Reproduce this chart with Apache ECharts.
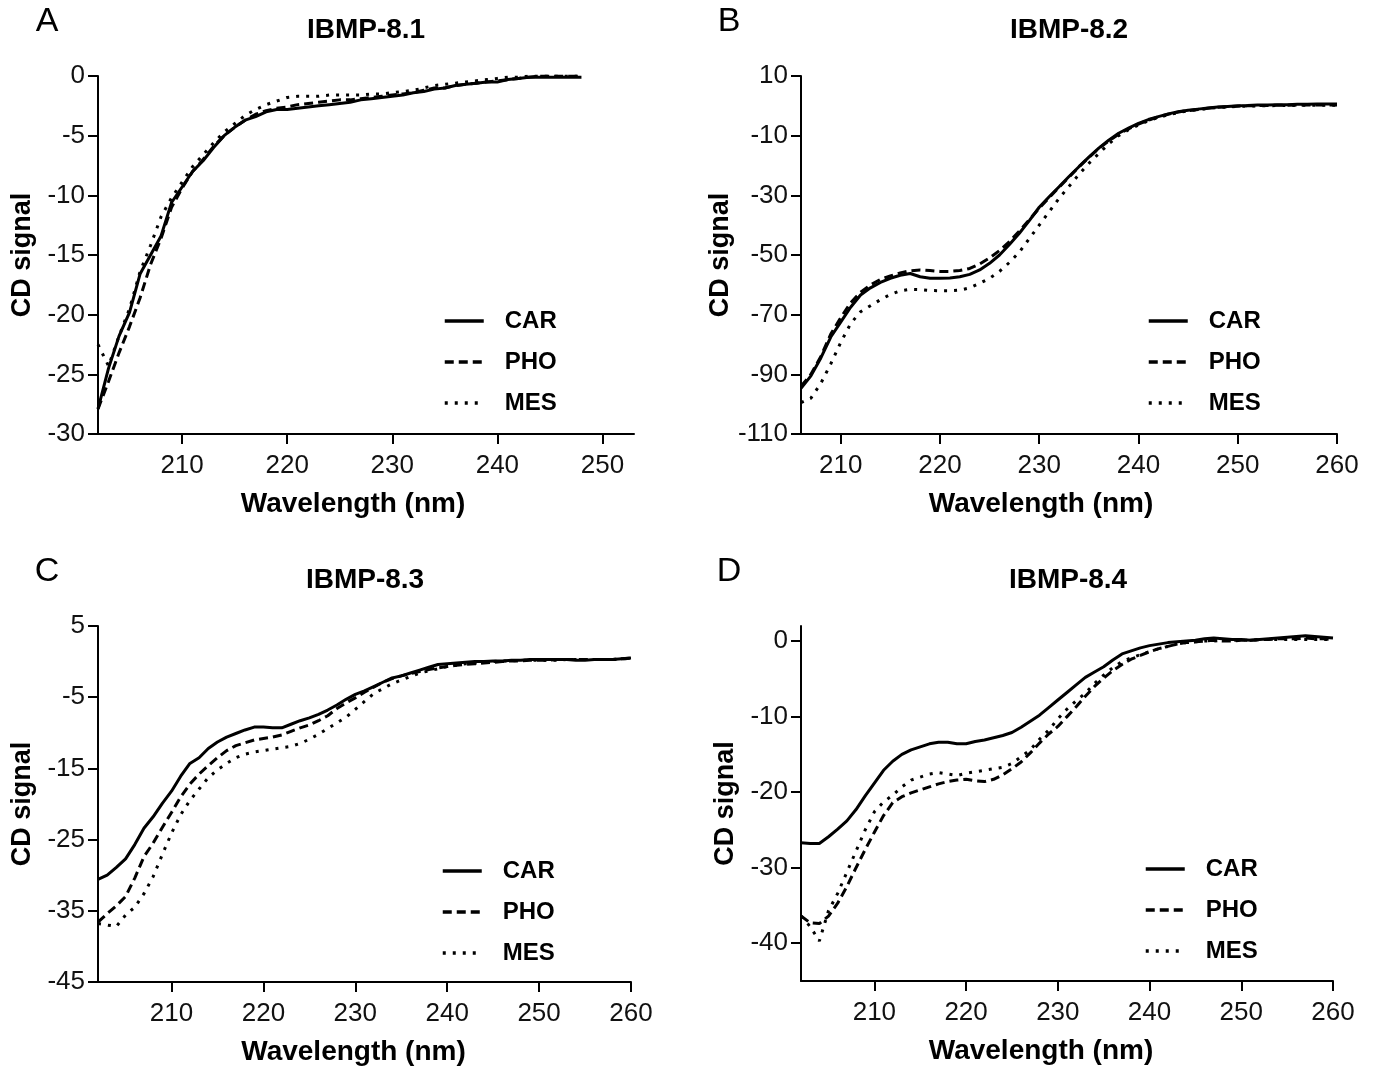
<!DOCTYPE html>
<html><head><meta charset="utf-8">
<script src="https://cdn.jsdelivr.net/npm/echarts@6/dist/echarts.min.js"></script>
<style>html,body{margin:0;padding:0;background:#fff}#c{width:1374px;height:1070px}</style>
</head><body><div id="c"></div>
<script>
function seq(a, b) { const r = []; for (let v = a; v <= b; v++) r.push(v); return r; }

// ---- Panel A: IBMP-8.1 ----
const wlA = seq(202, 248);
const carA = [-27.9,-24.5,-21.8,-19.8,-16.6,-15.0,-13.4,-10.6,-9.3,-8.0,
  -7.1,-6.0,-5.0,-4.3,-3.7,-3.4,-3.0,-2.8,-2.8,-2.7,
  -2.6,-2.5,-2.4,-2.3,-2.2,-2.0,-1.9,-1.8,-1.7,-1.6,
  -1.4,-1.3,-1.1,-1.0,-0.8,-0.7,-0.6,-0.5,-0.5,-0.3,
  -0.2,-0.1,-0.1,-0.1,-0.1,-0.1,-0.1];
const phoA = [-27.9,-25.6,-23.2,-21.0,-18.6,-15.8,-13.6,-11.0,-9.4,-8.0,
  -7.0,-5.9,-5.0,-4.3,-3.7,-3.2,-2.9,-2.7,-2.6,-2.4,
  -2.3,-2.2,-2.1,-2.0,-2.0,-1.9,-1.8,-1.7,-1.6,-1.5,
  -1.4,-1.2,-1.0,-1.0,-0.8,-0.7,-0.6,-0.5,-0.4,-0.3,
  -0.2,-0.1,0.0,0.0,0.0,0.0,0.0];
const mesA = [-22.5,-24.3,-21.8,-19.5,-16.4,-14.2,-11.8,-10.2,-8.9,-7.6,
  -6.6,-5.6,-4.7,-4.0,-3.3,-2.8,-2.4,-2.1,-1.8,-1.7,
  -1.7,-1.7,-1.6,-1.6,-1.6,-1.6,-1.5,-1.5,-1.4,-1.3,
  -1.2,-1.0,-0.8,-0.7,-0.6,-0.5,-0.4,-0.3,-0.2,-0.1,
  -0.1,0.0,0.0,0.0,0.0,0.0,0.0];

// ---- Panel B: IBMP-8.2 ----
const wlB = seq(206, 260);
const carB = [-94.7,-90.5,-84.5,-77.5,-72.5,-67.5,-63.4,-61.0,-59.2,-57.8,
  -56.8,-56.2,-57.3,-57.8,-57.8,-57.7,-57.3,-56.5,-55.0,-52.8,
  -50.0,-46.5,-42.7,-38.5,-34.0,-30.5,-27.1,-23.7,-20.4,-17.2,
  -14.2,-11.5,-9.2,-7.5,-5.9,-4.6,-3.6,-2.7,-2.0,-1.5,
  -1.1,-0.7,-0.4,-0.2,0.0,0.1,0.3,0.3,0.4,0.4,
  0.5,0.5,0.6,0.6,0.6];
const phoB = [-94.0,-90.0,-84.0,-76.5,-71.0,-66.0,-62.5,-60.0,-58.2,-57.0,
  -56.0,-55.3,-55.0,-55.2,-55.5,-55.5,-55.2,-54.5,-53.0,-51.0,
  -48.5,-45.5,-42.0,-38.2,-34.3,-30.8,-27.3,-23.9,-20.5,-17.3,
  -14.3,-11.8,-9.5,-7.7,-6.1,-4.8,-3.7,-2.8,-2.1,-1.6,
  -1.2,-0.8,-0.5,-0.3,-0.1,0.0,0.1,0.1,0.2,0.2,
  0.3,0.3,0.3,0.3,0.3];
const mesB = [-99.5,-98.0,-93.0,-86.5,-79.3,-73.0,-69.0,-67.0,-65.0,-63.2,
  -62.0,-61.5,-61.6,-61.9,-62.0,-62.0,-61.8,-61.0,-59.5,-57.8,
  -55.5,-52.5,-49.0,-44.5,-40.0,-35.5,-31.0,-27.0,-23.0,-19.3,
  -16.0,-12.8,-10.0,-8.0,-6.4,-5.0,-3.9,-3.0,-2.3,-1.7,
  -1.3,-0.9,-0.6,-0.4,-0.2,-0.1,0.0,0.0,0.1,0.1,
  0.2,0.2,0.2,0.2,0.2];

// ---- Panel C: IBMP-8.3 ----
const wlC = seq(202, 260);
const carC = [-30.6,-30.0,-28.9,-27.7,-25.7,-23.4,-21.8,-19.9,-18.2,-16.1,
  -14.3,-13.5,-12.2,-11.3,-10.6,-10.1,-9.6,-9.2,-9.2,-9.3,
  -9.3,-8.8,-8.3,-7.9,-7.4,-6.8,-6.1,-5.3,-4.6,-4.1,
  -3.5,-2.9,-2.3,-2.0,-1.6,-1.2,-0.8,-0.4,-0.3,-0.2,
  -0.1,0.0,0.0,0.1,0.1,0.2,0.2,0.3,0.3,0.3,
  0.3,0.3,0.2,0.2,0.3,0.3,0.3,0.4,0.5];
const phoC = [-36.6,-35.4,-34.3,-33.0,-30.4,-27.4,-25.5,-23.3,-21.2,-19.0,
  -17.2,-15.8,-14.6,-13.5,-12.5,-11.8,-11.4,-11.0,-10.8,-10.6,
  -10.3,-9.8,-9.3,-8.9,-8.3,-7.6,-6.6,-5.8,-5.1,-4.3,
  -3.6,-2.9,-2.4,-2.0,-1.7,-1.4,-1.1,-0.9,-0.7,-0.5,
  -0.4,-0.3,-0.2,-0.1,0.0,0.1,0.1,0.2,0.2,0.2,
  0.3,0.3,0.3,0.3,0.3,0.3,0.3,0.4,0.5];
const mesC = [-36.8,-37.0,-37.2,-35.6,-34.5,-32.6,-30.2,-27.1,-24.1,-21.5,
  -19.5,-17.9,-16.3,-15.2,-14.3,-13.5,-13.0,-12.7,-12.5,-12.3,
  -12.1,-11.9,-11.5,-10.9,-10.2,-9.4,-8.6,-7.8,-6.7,-5.6,
  -4.5,-3.8,-3.1,-2.6,-2.1,-1.6,-1.3,-1.0,-0.7,-0.5,
  -0.3,-0.2,-0.1,0.0,0.1,0.1,0.2,0.2,0.2,0.2,
  0.2,0.3,0.3,0.3,0.3,0.3,0.3,0.4,0.4];

// ---- Panel D: IBMP-8.4 ----
const wlD = seq(202, 260);
const carD = [-26.7,-26.8,-26.8,-25.9,-24.9,-23.8,-22.3,-20.5,-18.8,-17.1,
  -15.9,-15.0,-14.4,-14.0,-13.6,-13.4,-13.4,-13.6,-13.6,-13.3,
  -13.1,-12.8,-12.5,-12.1,-11.4,-10.6,-9.8,-8.8,-7.8,-6.8,
  -5.8,-4.8,-4.1,-3.4,-2.5,-1.7,-1.3,-0.9,-0.6,-0.4,
  -0.2,-0.1,0.0,0.1,0.3,0.4,0.3,0.2,0.2,0.1,
  0.2,0.3,0.4,0.5,0.6,0.7,0.6,0.5,0.4];
const phoD = [-36.4,-37.3,-37.4,-36.4,-34.7,-32.5,-30.0,-27.6,-25.3,-23.1,
  -21.4,-20.6,-20.1,-19.7,-19.3,-18.9,-18.6,-18.4,-18.3,-18.5,
  -18.6,-18.3,-17.7,-16.9,-16.0,-14.8,-13.5,-12.3,-11.3,-10.0,
  -8.7,-7.3,-6.0,-4.9,-3.9,-3.1,-2.4,-1.9,-1.4,-1.0,
  -0.7,-0.4,-0.2,-0.1,0.0,0.1,0.0,0.0,0.1,0.1,
  0.2,0.2,0.3,0.3,0.3,0.4,0.3,0.3,0.2];
const mesD = [-36.4,-37.8,-39.7,-35.7,-33.4,-30.6,-27.8,-25.0,-22.6,-21.3,
  -20.4,-19.3,-18.4,-18.0,-17.6,-17.4,-17.6,-17.8,-17.5,-17.3,
  -17.1,-16.9,-16.7,-16.2,-15.3,-14.4,-13.0,-11.8,-10.3,-9.0,
  -7.9,-6.9,-5.6,-4.5,-3.5,-2.7,-2.2,-1.8,-1.4,-1.0,
  -0.7,-0.4,-0.2,-0.1,0.0,0.0,0.1,0.1,0.1,0.1,
  0.2,0.2,0.2,0.2,0.2,0.2,0.2,0.2,0.2];

const seriesNames = ['CAR', 'PHO', 'MES'];
const titles = ['IBMP-8.1', 'IBMP-8.2', 'IBMP-8.3', 'IBMP-8.4'];
const letters = ['A', 'B', 'C', 'D'];
const xTicks = [[210,220,230,240,250],[210,220,230,240,250,260],[210,220,230,240,250,260],[210,220,230,240,250,260]];
const yTicks = [[0,-5,-10,-15,-20,-25,-30],[10,-10,-30,-50,-70,-90,-110],[5,-5,-15,-25,-35,-45],[0,-10,-20,-30,-40]];
const xRange = [[202,253],[206,260],[202,260],[202,260]];
const yRange = [[-30,0],[-110,10],[-45,5],[-45,2]];

const panels = [
  { wl: wlA, vals: [carA, phoA, mesA] },
  { wl: wlB, vals: [carB, phoB, mesB] },
  { wl: wlC, vals: [carC, phoC, mesC] },
  { wl: wlD, vals: [carD, phoD, mesD] }
];

const FONT = '"Liberation Sans", Arial, sans-serif';
const grids = [
  { left: 98, top: 76, width: 536, height: 358 },
  { left: 801, top: 76, width: 536, height: 358 },
  { left: 98, top: 626, width: 533, height: 356 },
  { left: 801, top: 626, width: 532, height: 355 }
];
const titlePos = [[366, 16], [1069, 16], [365, 566], [1068, 566]];
const letterPos = [[47, 5], [729, 5], [47, 555], [729, 555]];
const legendPos = [[443, 309], [1147, 309], [441, 859], [1144, 857]];
const nameShift = [26, 56, 22, 52];
const lineStyles = [
  { type: 'solid', width: 3 },
  { type: [9, 5], width: 3 },
  { type: [3, 7], width: 3 }
];

const option = {
  animation: false,
  backgroundColor: '#fff',
  title: [],
  legend: [],
  grid: [],
  xAxis: [],
  yAxis: [],
  series: []
};

panels.forEach((p, i) => {
  option.title.push({ text: titles[i], left: titlePos[i][0], top: titlePos[i][1], textAlign: 'center', padding: 0,
    textStyle: { fontFamily: FONT, fontSize: 28, fontWeight: 'bold', color: '#000' } });
  option.title.push({ text: letters[i], left: letterPos[i][0], top: letterPos[i][1], textAlign: 'center', padding: 0,
    textStyle: { fontFamily: FONT, fontSize: 34, fontWeight: 'normal', color: '#000' } });
  option.grid.push(Object.assign({ containLabel: false }, grids[i]));
  option.xAxis.push({
    type: 'value', gridIndex: i, min: xRange[i][0], max: xRange[i][1],
    name: 'Wavelength (nm)', nameLocation: 'middle', nameGap: 56,
    nameTextStyle: { fontFamily: FONT, fontSize: 28, fontWeight: 'bold', color: '#000', padding: [0, nameShift[i], 0, 0] },
    axisLine: { show: true, onZero: false, lineStyle: { color: '#000', width: 2 } },
    axisTick: { show: true, length: 10, lineStyle: { color: '#000', width: 2 }, customValues: xTicks[i] },
    axisLabel: { fontFamily: FONT, fontSize: 26, color: '#111', margin: 19, customValues: xTicks[i] },
    splitLine: { show: false }
  });
  option.yAxis.push({
    type: 'value', gridIndex: i, min: yRange[i][0], max: yRange[i][1],
    name: 'CD signal', nameLocation: 'middle', nameGap: 62,
    nameTextStyle: { fontFamily: FONT, fontSize: 27, fontWeight: 'bold', color: '#000' },
    axisLine: { show: true, onZero: false, lineStyle: { color: '#000', width: 2 } },
    axisTick: { show: true, length: 10, lineStyle: { color: '#000', width: 2 }, customValues: yTicks[i] },
    axisLabel: { fontFamily: FONT, fontSize: 26, color: '#111', margin: 13, customValues: yTicks[i] },
    splitLine: { show: false }
  });
  seriesNames.forEach((nm, k) => {
    option.series.push({
      type: 'line', name: nm, xAxisIndex: i, yAxisIndex: i,
      data: p.wl.map((w, j) => [w, p.vals[k][j]]),
      symbol: 'none', smooth: false,
      lineStyle: Object.assign({ color: '#000', cap: 'butt' }, lineStyles[k]),
      itemStyle: { color: '#000' }
    });
  });
  option.legend.push({
    data: seriesNames, orient: 'vertical', left: legendPos[i][0], top: legendPos[i][1], padding: 0,
    itemWidth: 39, itemHeight: 20, itemGap: 17, selectedMode: false,
    itemStyle: { opacity: 0 },
    lineStyle: { width: 3.5, color: '#000' },
    textStyle: { fontFamily: FONT, fontSize: 24, fontWeight: 'bold', color: '#000', padding: [0, 0, 0, 16] }
  });
});

const chart = echarts.init(document.getElementById('c'), null, { renderer: 'canvas' });
chart.setOption(option);
</script></body></html>
